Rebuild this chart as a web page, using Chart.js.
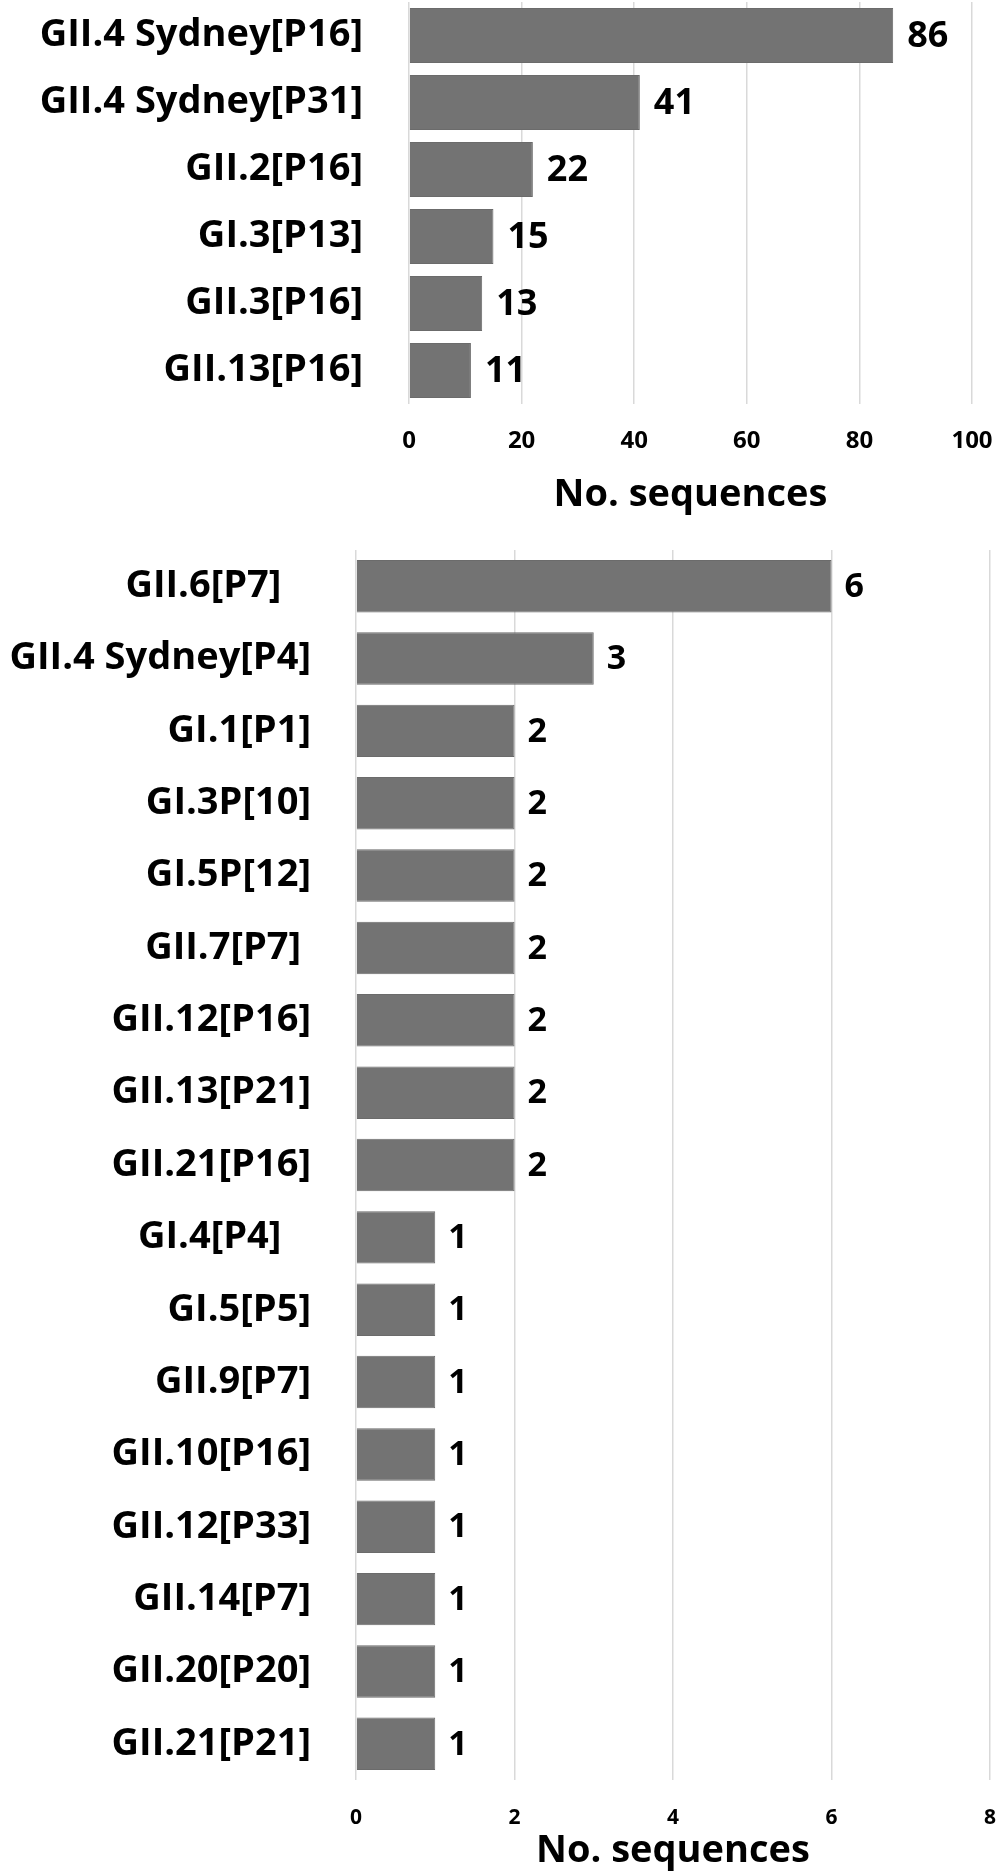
<!DOCTYPE html>
<html>
<head>
<meta charset="utf-8">
<script src="https://cdn.jsdelivr.net/npm/chart.js@4.4.1/dist/chart.umd.min.js"></script>
<style>
    html, body { margin: 0; padding: 0; background: #fff; }
    #wrap { position: relative; width: 1001px; height: 1873px; }
    #topChart { position: absolute; left: 0; top: 0; }
    #bottomChart { position: absolute; left: 0; top: 520px; }
</style>
</head>
<body>
<div id="wrap">
    <canvas id="topChart" width="1001" height="520"></canvas>
    <canvas id="bottomChart" width="1001" height="1353"></canvas>
</div>
<script>
// ── Data ──
const topLabels = ['GII.4 Sydney[P16]', 'GII.4 Sydney[P31]', 'GII.2[P16]', 'GI.3[P13]', 'GII.3[P16]', 'GII.13[P16]'];
const topValues = [86, 41, 22, 15, 13, 11];
const topTicks = { min: 0, max: 100, step: 20 };

const bottomLabels = ['GII.6[P7]   ', 'GII.4 Sydney[P4]', 'GI.1[P1]', 'GI.3P[10]', 'GI.5P[12]', 'GII.7[P7] ',
    'GII.12[P16]', 'GII.13[P21]', 'GII.21[P16]', 'GI.4[P4]   ', 'GI.5[P5]', 'GII.9[P7]', 'GII.10[P16]',
    'GII.12[P33]', 'GII.14[P7]', 'GII.20[P20]', 'GII.21[P21]'];
const bottomValues = [6, 3, 2, 2, 2, 2, 2, 2, 2, 1, 1, 1, 1, 1, 1, 1, 1];
const bottomTicks = { min: 0, max: 8, step: 2 };

const axisTitle = 'No. sequences';
const FONT = '"Open Sans"';

// ── Value labels at bar ends ──
const barValueLabels = {
    id: 'barValueLabels',
    afterDatasetsDraw(chart, args, opts) {
        const ctx = chart.ctx;
        const meta = chart.getDatasetMeta(0);
        const data = chart.data.datasets[0].data;
        ctx.save();
        ctx.font = `bold ${opts.size}px ${FONT}`;
        ctx.fillStyle = '#000';
        ctx.textAlign = 'left';
        ctx.textBaseline = 'middle';
        meta.data.forEach((bar, i) => {
            ctx.fillText(String(data[i]), bar.x + opts.gap, bar.y + 1);
        });
        ctx.restore();
    }
};

function makeChart(canvasId, labels, values, ticks, cfg) {
    return new Chart(document.getElementById(canvasId), {
        type: 'bar',
        data: {
            labels: labels,
            datasets: [{
                data: values,
                backgroundColor: '#737373',
                borderColor: '#6b6b6b',
                borderWidth: 1,
                barPercentage: cfg.barPct,
                categoryPercentage: 1
            }]
        },
        plugins: [barValueLabels],
        options: {
            indexAxis: 'y',
            responsive: false,
            animation: false,
            layout: { padding: { left: 0, right: cfg.padRight, top: cfg.padTop, bottom: 0 } },
            plugins: {
                legend: { display: false },
                tooltip: { enabled: false },
                barValueLabels: { size: cfg.valueSize, gap: cfg.valueGap }
            },
            scales: {
                x: {
                    min: ticks.min,
                    max: ticks.max,
                    border: { display: false },
                    grid: { color: '#d9d9d9', lineWidth: 1.5, drawTicks: false },
                    ticks: {
                        stepSize: ticks.step,
                        padding: cfg.tickPad,
                        color: '#000',
                        font: { family: FONT, size: cfg.tickSize, weight: 'bold', lineHeight: 1 }
                    },
                    title: {
                        display: true,
                        text: axisTitle,
                        color: '#000',
                        padding: { top: 0, bottom: cfg.titlePad },
                        font: { family: FONT, size: cfg.titleSize, weight: 'bold', lineHeight: 1 }
                    },
                    afterFit: (scale) => {
                        scale.height = cfg.axisHeight;
                        scale.paddingLeft = 0;
                        scale.paddingRight = 0;
                    }
                },
                y: {
                    border: { display: false },
                    grid: { display: false, drawTicks: false },
                    ticks: {
                        padding: cfg.labelPad,
                        color: '#000',
                        font: { family: FONT, size: cfg.labelSize, weight: 'bold' }
                    },
                    afterFit: (scale) => {
                        // keep the label padding from eating into the plot height
                        scale.width = cfg.axisLeft;
                        scale.paddingTop = 0;
                        scale.paddingBottom = 0;
                    }
                }
            }
        }
    });
}

makeChart('topChart', topLabels, topValues, topTicks, {
    barPct: 0.82, padRight: 29, padTop: 2, axisLeft: 409, axisHeight: 116,
    tickPad: 25, tickSize: 24, titleSize: 38, titlePad: 6,
    labelSize: 38, labelPad: 46, valueSize: 36, valueGap: 14
});

makeChart('bottomChart', bottomLabels, bottomValues, bottomTicks, {
    barPct: 0.725, padRight: 11, padTop: 30, axisLeft: 356, axisHeight: 93,
    tickPad: 28, tickSize: 21, titleSize: 38, titlePad: 3,
    labelSize: 38, labelPad: 45, valueSize: 34, valueGap: 13
});
</script>
</body>
</html>
